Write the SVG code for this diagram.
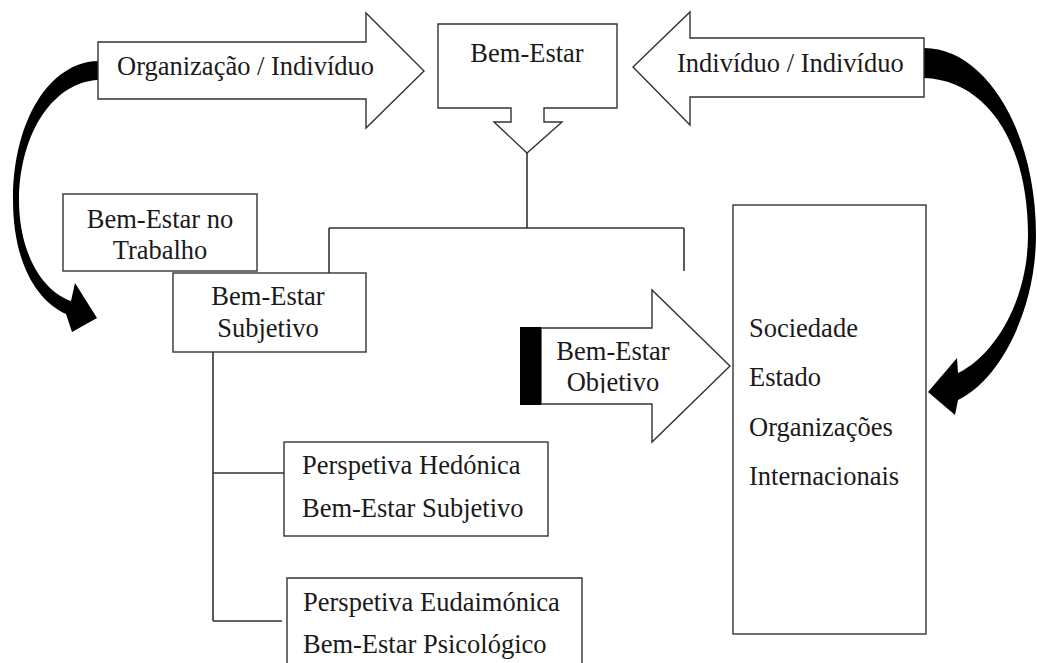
<svg xmlns="http://www.w3.org/2000/svg" width="1037" height="663" viewBox="0 0 1037 663" font-family="'Liberation Serif', 'Times New Roman', Tinos, 'DejaVu Serif', serif">
<style>
.box{fill:#fff;stroke:#333;stroke-width:1.4}
.ln{fill:none;stroke:#333;stroke-width:1.6}
.t{font-family:'Liberation Serif','Times New Roman',Tinos,'DejaVu Serif',serif;font-size:26.5px;fill:#1a1a1a}
.c{text-anchor:middle}
.blk{fill:#000}
</style>
<defs>
<clipPath id="objClip"><rect x="541" y="300" width="120" height="93"/></clipPath>
</defs>
<rect width="1037" height="663" fill="#fff"/>

<g id="connectors">
<path class="blk" d="M98,61 C50,62 13,120 13,200 C13,260 35,300 66,314 L72,332 L97,318 L75,283 L71,301 C40,290 19,250 19,200 C20,130 55,82 98,80 Z"/>
<path class="blk" d="M924,48 C985,48 1036,130 1036,235 C1036,310 1000,380 958,400 L955,415 L928,392 L957,358 L958,373 C995,355 1028,300 1028,235 C1028,140 985,80 924,78 Z"/>
<path class="ln" d="M527,153 L527,228 M329,228 L684,228 M329,228 L329,273 M684,228 L684,271"/>
<path class="ln" d="M213,352 L213,621 M213,473 L284,473 M213,621 L282,621"/>
</g>

<g id="org-individuo">
<path class="box" d="M98,42 L366,42 L366,13 L424,71 L366,128 L366,99 L98,99 Z"/>
<text class="t" x="117" y="75">Organização / Indivíduo</text>
</g>

<g id="individuo-individuo">
<path class="box" d="M924,38 L690,38 L690,12 L633,67 L690,125 L690,97 L924,97 Z"/>
<text class="t" x="677" y="72">Indivíduo / Indivíduo</text>
</g>

<g id="bem-estar">
<path class="box" d="M438,24 L617,24 L617,108 L544,108 L544,122 L562,122 L527,153 L494,122 L511,122 L511,108 L438,108 Z"/>
<text class="t c" x="527" y="62">Bem-Estar</text>
</g>

<g id="bem-estar-trabalho">
<rect class="box" x="63" y="194" width="194" height="77"/>
<text class="t c" x="160" y="228">Bem-Estar no</text>
<text class="t c" x="160" y="259">Trabalho</text>
</g>

<g id="bem-estar-subjetivo">
<rect class="box" x="173" y="273" width="193" height="79"/>
<text class="t c" x="268" y="305">Bem-Estar</text>
<text class="t c" x="268" y="337">Subjetivo</text>
</g>

<g id="bem-estar-objetivo">
<path class="box" d="M541,328 L652,328 L652,290 L730,366 L652,442 L652,404 L541,404 Z"/>
<rect class="blk" x="520" y="327" width="21" height="78"/>
<text class="t c" x="613" y="360">Bem-Estar</text>
<text class="t c" x="613" y="391" clip-path="url(#objClip)">Objetivo</text>
</g>

<g id="sociedade">
<rect class="box" x="733" y="205" width="193" height="429"/>
<text class="t" x="749" y="337">Sociedade</text>
<text class="t" x="749" y="386">Estado</text>
<text class="t" x="749" y="436">Organizações</text>
<text class="t" x="749" y="485">Internacionais</text>
</g>

<g id="hedonica">
<rect class="box" x="284" y="442" width="264" height="94"/>
<text class="t" x="302" y="474">Perspetiva Hedónica</text>
<text class="t" x="302" y="517">Bem-Estar Subjetivo</text>
</g>

<g id="eudaimonica">
<path class="box" d="M287,670 L287,578 L582,578 L582,670"/>
<text class="t" x="303" y="611">Perspetiva Eudaimónica</text>
<text class="t" x="303" y="653">Bem-Estar Psicológico</text>
</g>
</svg>
